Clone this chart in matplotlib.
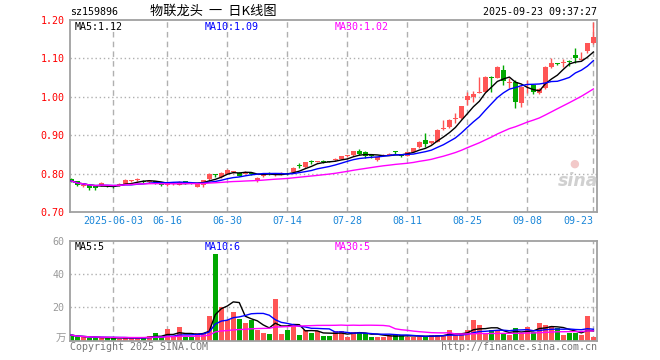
import matplotlib

matplotlib.use("Agg")
import matplotlib.pyplot as plt
import pandas as pd

# daily candles, 2025-05-22 .. 2025-09-23 (index = trading day)
opens = [0.787, 0.781, 0.768, 0.770, 0.767, 0.768, 0.769, 0.768, 0.771, 0.773,
         0.780, 0.784, 0.780, 0.778, 0.778, 0.776, 0.770, 0.773, 0.771, 0.780,
         0.775, 0.766, 0.770, 0.786, 0.797, 0.790, 0.800, 0.804, 0.801, 0.799,
         0.801, 0.781, 0.793, 0.801, 0.797, 0.799, 0.801, 0.804, 0.823, 0.816,
         0.832, 0.830, 0.833, 0.832, 0.835, 0.838, 0.845, 0.848, 0.860, 0.855,
         0.848, 0.836, 0.846, 0.849, 0.856, 0.847, 0.846, 0.857, 0.868, 0.887,
         0.880, 0.883, 0.917, 0.922, 0.943, 0.944, 0.992, 1.000, 1.011, 1.013,
         1.052, 1.050, 1.071, 1.036, 1.039, 0.985, 1.032, 1.031, 1.010, 1.022,
         1.078, 1.086, 1.087, 1.091, 1.110, 1.096, 1.118, 1.140]
highs = [0.789, 0.782, 0.772, 0.771, 0.768, 0.777, 0.771, 0.770, 0.775, 0.785,
         0.784, 0.789, 0.784, 0.781, 0.782, 0.778, 0.774, 0.776, 0.780, 0.782,
         0.777, 0.774, 0.784, 0.801, 0.800, 0.803, 0.811, 0.808, 0.803, 0.807,
         0.803, 0.791, 0.801, 0.803, 0.801, 0.803, 0.802, 0.816, 0.827, 0.831,
         0.835, 0.834, 0.835, 0.834, 0.840, 0.847, 0.849, 0.860, 0.863, 0.858,
         0.850, 0.844, 0.850, 0.853, 0.860, 0.849, 0.857, 0.867, 0.884, 0.905,
         0.886, 0.915, 0.940, 0.941, 0.958, 0.977, 1.013, 1.015, 1.052, 1.053,
         1.053, 1.079, 1.083, 1.048, 1.044, 1.027, 1.044, 1.032, 1.022, 1.079,
         1.100, 1.089, 1.098, 1.097, 1.126, 1.117, 1.140, 1.195]
lows = [0.779, 0.768, 0.766, 0.757, 0.758, 0.767, 0.764, 0.762, 0.769, 0.772,
        0.778, 0.782, 0.775, 0.776, 0.774, 0.768, 0.768, 0.771, 0.770, 0.774,
        0.772, 0.764, 0.765, 0.780, 0.792, 0.789, 0.799, 0.802, 0.793, 0.798,
        0.797, 0.779, 0.791, 0.797, 0.795, 0.797, 0.796, 0.803, 0.814, 0.815,
        0.826, 0.829, 0.828, 0.829, 0.834, 0.837, 0.843, 0.847, 0.849, 0.840,
        0.840, 0.834, 0.845, 0.848, 0.851, 0.844, 0.845, 0.856, 0.867, 0.870,
        0.878, 0.882, 0.914, 0.920, 0.932, 0.943, 0.979, 0.987, 1.009, 1.012,
        1.013, 1.049, 1.031, 1.022, 0.972, 0.974, 1.010, 1.006, 1.008, 1.020,
        1.076, 1.082, 1.078, 1.080, 1.087, 1.096, 1.113, 1.138]
closes = [0.781, 0.770, 0.769, 0.762, 0.762, 0.775, 0.768, 0.765, 0.772, 0.783,
          0.781, 0.786, 0.779, 0.779, 0.777, 0.770, 0.771, 0.775, 0.778, 0.776,
          0.774, 0.772, 0.783, 0.800, 0.796, 0.802, 0.810, 0.805, 0.795, 0.805,
          0.800, 0.789, 0.800, 0.800, 0.798, 0.800, 0.798, 0.815, 0.821, 0.830,
          0.829, 0.833, 0.831, 0.830, 0.838, 0.846, 0.846, 0.859, 0.851, 0.846,
          0.845, 0.842, 0.849, 0.852, 0.855, 0.846, 0.856, 0.866, 0.883, 0.877,
          0.884, 0.914, 0.918, 0.940, 0.944, 0.976, 1.002, 1.008, 1.012, 1.052,
          1.050, 1.078, 1.040, 1.037, 0.986, 1.025, 1.034, 1.012, 1.020, 1.078,
          1.087, 1.085, 1.088, 1.090, 1.102, 1.097, 1.139, 1.155]
# volume in 万
volumes = [3.3, 2.0, 2.0, 1.6, 1.6, 1.6, 1.6, 1.6, 1.2, 1.6,
           1.6, 1.6, 2.0, 2.7, 4.5, 2.0, 6.8, 2.2, 8.0, 2.2,
           2.0, 4.3, 4.7, 14.8, 52.0, 20.0, 12.4, 17.2, 12.8, 10.7,
           12.4, 6.3, 4.7, 3.9, 25.0, 3.9, 6.3, 9.2, 3.4, 6.3,
           4.7, 5.5, 2.9, 2.8, 5.7, 5.7, 2.2, 5.2, 5.0, 4.4,
           2.3, 2.3, 2.3, 3.0, 3.2, 3.2, 2.3, 2.3, 2.4, 2.4,
           3.3, 3.3, 3.3, 6.5, 3.3, 3.8, 6.3, 12.4, 9.3, 4.0,
           6.3, 6.3, 4.0, 3.3, 7.5, 4.5, 8.3, 5.3, 10.5, 9.3,
           8.6, 7.5, 3.1, 4.8, 4.5, 3.1, 14.6, 1.9]

date_ticks = [7, 16, 26, 36, 46, 56, 66, 76, 87]
date_labels = ["2025-06-03", "06-16", "06-30", "07-14", "07-28", "08-11", "08-25", "09-08", "09-23"]
price_ticks = [0.70, 0.80, 0.90, 1.00, 1.10, 1.20]
vol_ticks = [20, 40, 60]

RED = "#ff5555"
GREEN = "#00a800"
GRAY = "#a0a0a0"
MONO = "DejaVu Sans Mono"
W, H = 660, 360


def px(x, y):
    return x / W, 1 - y / H


def style_axes(ax):
    for s in ax.spines.values():
        s.set_color(GRAY)
        s.set_linewidth(1.3)
    ax.tick_params(length=0)
    ax.set_xlim(-0.2, 87.6)
    for t in date_ticks:
        ax.axvline(t, color="#b0b0b0", lw=1, dashes=(4, 3), zorder=0)


def main() -> None:
    df = pd.DataFrame({"open": opens, "high": highs, "low": lows, "close": closes, "vol": volumes})
    up = df["close"] >= df["open"]
    colors = [RED if u else GREEN for u in up]

    fig = plt.figure(figsize=(6.6, 3.6), dpi=100)
    ax = fig.add_axes([70 / W, 1 - 212 / H, 527 / W, 192 / H])
    axv = fig.add_axes([70 / W, 1 - 340.5 / H, 527 / W, 99.5 / H])
    style_axes(ax)
    style_axes(axv)

    # price panel
    for p in price_ticks[1:-1]:
        ax.axhline(p, color="#b0b0b0", lw=1, ls=(0, (1, 2)), zorder=0)
    body = (df["close"] - df["open"]).abs().clip(lower=0.0026)
    bottom = df[["open", "close"]].min(axis=1)
    ax.vlines(df.index, df["low"], df["high"], colors=colors, lw=1, zorder=2)
    ax.bar(df.index, body, bottom=bottom, width=0.8, color=colors, zorder=3)
    for n, c in [(5, "black"), (10, "#0000ff"), (30, "#ff00ff")]:
        ma = df["close"].rolling(n, min_periods=1).mean()
        ax.plot(df.index, ma, color=c, lw=1, zorder=4)
    ax.set_ylim(0.70, 1.20)
    ax.set_yticks(price_ticks)
    ax.set_yticklabels([f"{p:.2f}" for p in price_ticks], color="red", fontsize=7.2, family=MONO)
    ax.tick_params(axis="y", pad=4)
    ax.set_xticks(date_ticks)
    ax.set_xticklabels(date_labels, color="#1a86d8", fontsize=7.2, family=MONO)
    ax.tick_params(axis="x", pad=3)
    ax.get_xticklabels()[-1].set_ha("right")

    # volume panel
    for v in vol_ticks[:-1]:
        axv.axhline(v, color="#b0b0b0", lw=1, ls=(0, (1, 2)), zorder=0)
    axv.bar(df.index, df["vol"], width=0.8, color=colors, zorder=2)
    for n, c in [(5, "black"), (10, "#0000ff"), (30, "#ff00ff")]:
        ma = df["vol"].rolling(n, min_periods=1).mean()
        axv.plot(df.index, ma, color=c, lw=1, zorder=3)
    axv.set_ylim(0, 60)
    axv.set_yticks(vol_ticks)
    axv.set_yticklabels([str(v) for v in vol_ticks], color="#999999", fontsize=7.2, family=MONO)
    axv.tick_params(axis="y", pad=4)
    axv.set_xticks([])

    # texts
    fig.text(*px(70, 12), "sz159896", fontsize=7.2, family=MONO, va="center")
    fig.text(*px(150, 11), "物联龙头  一  日K线图", fontsize=9.5,
             family=["Noto Sans CJK SC", "DejaVu Sans"], va="center")
    fig.text(*px(597, 12), "2025-09-23 09:37:27", fontsize=7.2, family=MONO, va="center", ha="right")
    ma_price = [df["close"].rolling(n).mean().iloc[-1] for n in (5, 10, 30)]
    ma_vol = [int(df["vol"].rolling(n).mean().iloc[-1]) for n in (5, 10, 30)]
    for x, c, n, v, vv in zip([75, 205, 335], ["black", "#0000ff", "#ff00ff"], [5, 10, 30], ma_price, ma_vol):
        fig.text(*px(x, 27), f"MA{n}:{v:.2f}", fontsize=7.2, family=MONO, color=c, va="center")
        fig.text(*px(x, 247), f"MA{n}:{vv}", fontsize=7.2, family=MONO, color=c, va="center")
    fig.text(*px(66, 339), "万", fontsize=7.5, family=["Noto Sans CJK SC", "DejaVu Sans"],
             color="#999999", va="center", ha="right")
    fig.text(*px(70, 347), "Copyright 2025 SINA.COM", fontsize=7.2, family=MONO, color="#777777", va="center")
    fig.text(*px(597, 347), "http://finance.sina.com.cn", fontsize=7.2, family=MONO, color="#777777",
             va="center", ha="right")
    fig.text(*px(578, 181), "sina", fontsize=12.5, fontweight="bold", style="italic", color="#d0d0d0",
             ha="center", va="center")
    fig.text(*px(574, 164), "●", fontsize=8, color="#f2c8c8", ha="center", va="center")

    fig.savefig("out.png", dpi=100)
    plt.close(fig)


if __name__ == "__main__":
    main()
